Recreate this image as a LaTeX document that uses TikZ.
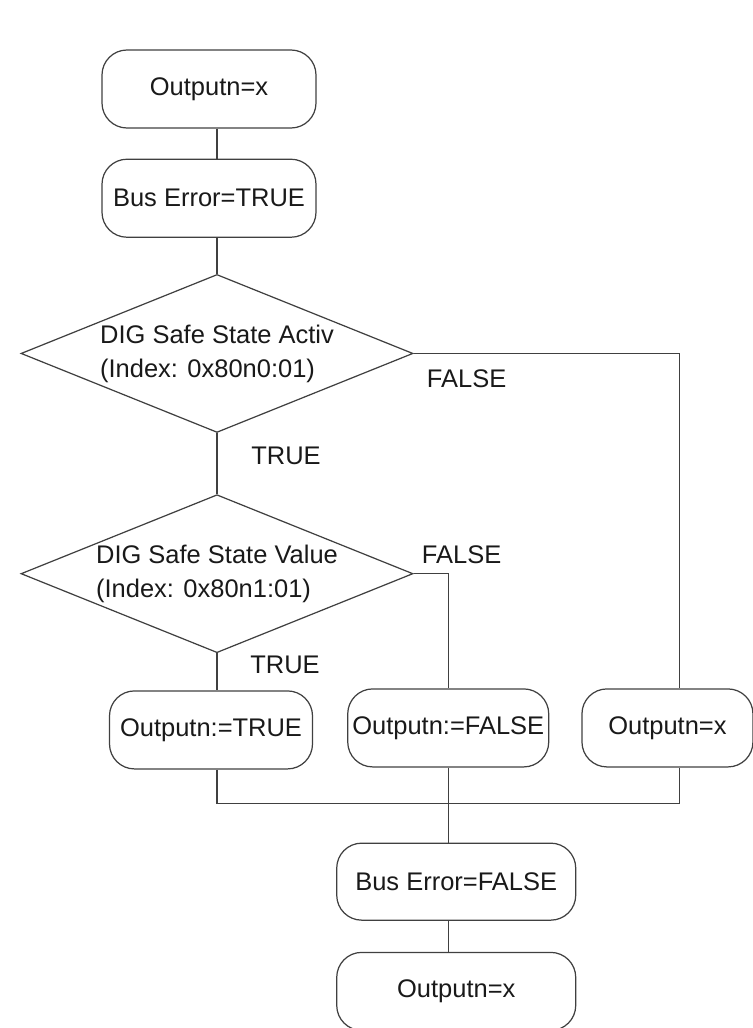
\documentclass[tikz,border=0pt]{standalone}
\usepackage{fontspec}
\setmainfont{Liberation Sans}
\usetikzlibrary{positioning, shapes.geometric}
\tikzset{
    base_text/.style={font=\fontsize{14.5}{19.3}\selectfont, text=black!90},
    round_box/.style={base_text, rectangle, rounded corners=0.5cm, minimum width=4.28cm, minimum height=1.56cm, inner sep=0pt, text centered, align=center, draw=black!75, line width=0.7pt},
    decision/.style={base_text, diamond, aspect=2.5, minimum width=7.84cm, minimum height=3.16cm, inner sep=0pt, align=left, draw=black!75, line width=0.7pt},
    branch_label/.style={base_text, inner sep=0pt},
    line/.style={draw=black!75, line width=0.7pt},
}

\begin{document}
\begin{tikzpicture}
    \useasboundingbox (0,0) rectangle (15.04,-20.56);

    %%%%%%%%%%%%%
    % BUS ERROR %
    %%%%%%%%%%%%%
    \node (start) [round_box] at (4.18,-1.78)
        {Outputn=x};
    \node (buserr) [round_box, below = 0.6cm of start]
        {Bus Error=TRUE};

    %%%%%%%%%%%%%
    % DECISIONS %
    %%%%%%%%%%%%%
    \node (activ) [decision, below = 0.72cm of buserr, xshift=0.16cm]
        {DIG Safe State Activ\\(Index: 0x80n0:01)};
    \node (value) [decision, below = 1.22cm of activ]
        {DIG Safe State Value\\(Index: 0x80n1:01)};

    %%%%%%%%%%%
    % OUTPUTS %
    %%%%%%%%%%%
    \node (out_true) [round_box, minimum width=4.06cm, below = 0.74cm of value, xshift=-0.12cm]
        {Outputn:=TRUE};
    \node (out_false) [round_box, minimum width=4.02cm, right = 0.68cm of out_true, yshift=0.04cm]
        {Outputn:=FALSE};
    \node (out_keep) [round_box, minimum width=3.42cm, right = 0.64cm of out_false]
        {Outputn=x};

    \node (busok) [round_box, minimum width=4.78cm, minimum height=1.54cm, below = 1.5cm of out_false, xshift=0.16cm]
        {Bus Error=FALSE};
    \node (finish) [round_box, minimum width=4.78cm, below = 0.62cm of busok]
        {Outputn=x};
    \coordinate [below = 0.72cm of out_false] (join);

    %%%%%%%%%%
    % LABELS %
    %%%%%%%%%%
    \node (activ_true) [branch_label, below right = 0.28cm and 0.68cm of activ.south, anchor=north west] {TRUE};
    \node (activ_false) [branch_label, below right = 0.32cm and 0.26cm of activ.east, anchor=north west] {FALSE};
    \node (value_true) [branch_label, below right = 0.04cm and 0.66cm of value.south, anchor=north west] {TRUE};
    \node (value_false) [branch_label, above right = 0.2cm and 0.16cm of value.east, anchor=south west] {FALSE};

    %%%%%%%%%%%%%%
    % CONNECTORS %
    %%%%%%%%%%%%%%
    \draw [line] (start.south -| activ.north) -- (buserr.north -| activ.north);
    \draw [line] (buserr.south -| activ.north) -- (activ.north);
    \draw [line] (activ.south) -- (value.north);
    \draw [line] (value.south) -- (out_true.north -| value.south);
    \draw [line] (activ.east) -| ([xshift=0.24cm]out_keep.north);
    \draw [line] (value.east) -| (out_false.north);
    \draw [line] (out_true.south -| value.south) |- (join) -| ([xshift=0.24cm]out_keep.south);
    \draw [line] (out_false.south) -- (busok.north -| out_false.south);
    \draw [line] (busok.south -| out_false.south) -- (finish.north -| out_false.south);

\end{tikzpicture}
\end{document}
